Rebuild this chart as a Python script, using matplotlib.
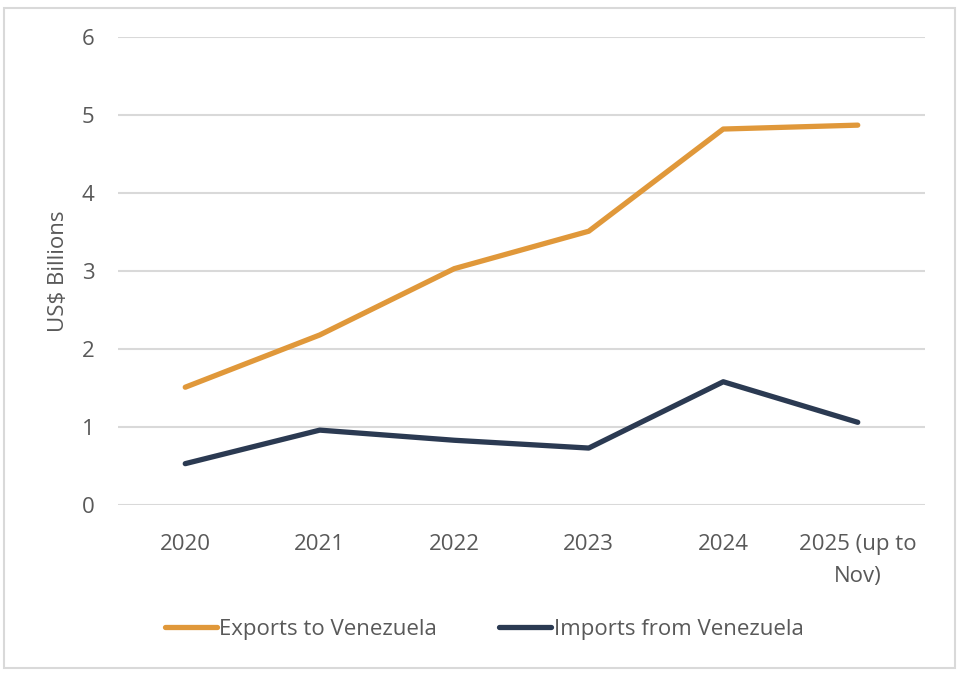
import matplotlib
matplotlib.use("Agg")
import matplotlib.pyplot as plt
from matplotlib.patches import Rectangle

years = ["2020", "2021", "2022", "2023", "2024", "2025 (up to\nNov)"]
exports = [1.51, 2.18, 3.03, 3.51, 4.82, 4.87]
imports = [0.53, 0.96, 0.83, 0.73, 1.58, 1.06]
yticks = [0, 1, 2, 3, 4, 5, 6]

plt.rcParams['font.family'] = ['Open Sans', 'DejaVu Sans']
text_color = "#595959"
grid_color = "#D9D9D9"
orange = "#E0983A"
navy = "#2B3A52"
fs = 16

fig = plt.figure(figsize=(9.6, 6.74), dpi=100)
fig.patches.append(Rectangle((3.5/960, 1-667.5/674), 951/960, 660/674,
                             transform=fig.transFigure, fill=False,
                             edgecolor=grid_color, linewidth=1.5))
ax = fig.add_axes([118/960, 1-505/674, 807/960, 468/674])
x = list(range(len(years)))
ax.plot(x, exports, color=orange, linewidth=3.8, solid_capstyle='round',
        solid_joinstyle='round', label="Exports to Venezuela", zorder=3)
ax.plot(x, imports, color=navy, linewidth=3.8, solid_capstyle='round',
        solid_joinstyle='round', label="Imports from Venezuela", zorder=3)
ax.set_xlim(-0.5, len(years) - 0.5)
ax.set_ylim(0, 6)
ax.set_yticks(yticks)
ax.set_yticklabels([str(v) for v in yticks])
ax.set_xticks(x)
ax.set_xticklabels(years, linespacing=1.7)
for s in ax.spines.values():
    s.set_visible(False)
ax.yaxis.grid(True, color=grid_color, linewidth=1.5)
ax.set_axisbelow(True)
ax.tick_params(axis='both', length=0, colors=text_color, labelsize=fs)
ax.tick_params(axis='y', pad=17)
ax.tick_params(axis='x', pad=21)
ax.set_ylabel("US$ Billions", color=text_color, fontsize=fs, labelpad=9)
leg = fig.legend(loc='center', bbox_to_anchor=(484/960, 1-629/674), ncol=2,
                 frameon=False, fontsize=fs, handlelength=2.35, handletextpad=0.1,
                 columnspacing=2.8, labelcolor=text_color)
fig.savefig("out.png", dpi=100)
